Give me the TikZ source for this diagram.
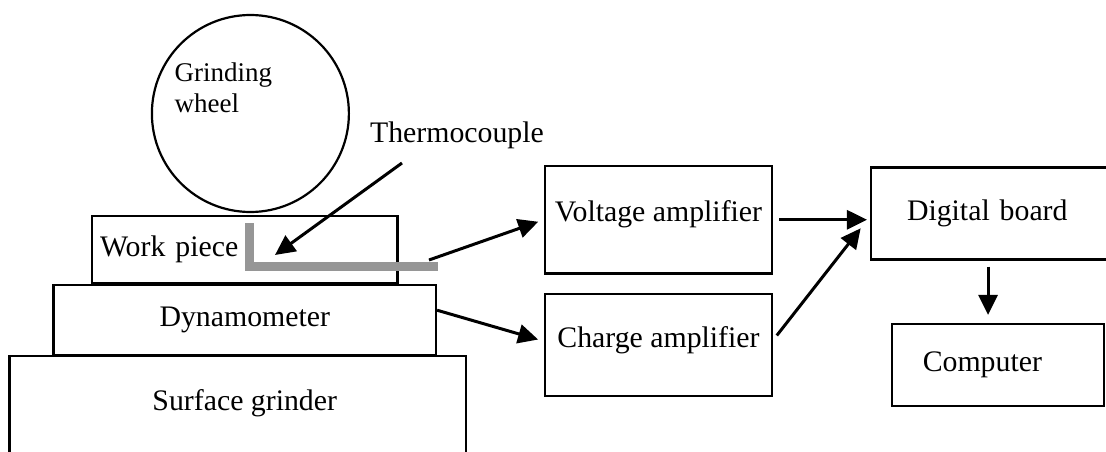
\documentclass[tikz,border=0pt]{standalone}
\usepackage{fontspec}
\setmainfont{Liberation Serif}
\usetikzlibrary{arrows.meta,positioning,calc}
\definecolor{tcgray}{RGB}{150,150,150}

\begin{document}
\begin{tikzpicture}[
  x=1pt, y=-1pt,
  every node/.style={font=\fontsize{29.8}{34}\selectfont},
  box/.style={draw, line width=2.2pt, inner sep=0pt},
  raised/.style={text depth=17pt},
  arr/.style={->, line width=3pt, shorten <=6pt, shorten >=6pt},
  >={Triangle[length=20pt, width=19pt]}
]
\useasboundingbox (0,0) rectangle (1106,452);
% grinding machine
\node[box, circle, minimum size=197pt,
  label={[xshift=-27pt, yshift=26pt, align=left, font=\fontsize{27}{31}\selectfont]center:Grinding\\wheel}]
  (wheel) at (250.4,113.5) {};
\node[box, text width=289.5pt, inner xsep=8pt, minimum height=67pt, align=left] (wp) at (244.75,249.5) {Work piece};
\node[box, minimum width=382.4pt, minimum height=70pt, below=0pt of wp] (dyn) {Dynamometer};
\node[minimum width=456pt, minimum height=94pt, below=0pt of dyn] (sg) {Surface grinder};
\draw[line width=2.2pt] ($(sg.south west)+(-7,20)$) |- ($(sg.north east)+(-7,0)$) -- ++(0,120);
% thermocouple
\coordinate (tctop) at (249.5,223);
\coordinate (tcend) at (437.5,266);
\draw[tcgray, line width=9pt] (tctop) |- (tcend);
\node (tc) at (457,135) {Thermocouple};
\coordinate (tctip) at (275,255);
\draw[arr, shorten <=0pt, shorten >=0pt] ($(tc.center)+(-55,28)$) -- (tctip);
% signal chain
\node[box, raised, minimum width=227pt, minimum height=107.5pt] (va) at (658.5,219.75) {Voltage amplifier};
\node[box, raised, minimum width=227pt, minimum height=102pt, below=18.5pt of va] (ca) {Charge amplifier};
\node[box, text width=178pt, inner xsep=36pt, minimum height=92pt, align=left] (db) at (996,213.5) {Digital board};
\node[box, text width=150.3pt, inner xsep=31pt, minimum height=82pt, align=left] (pc) at (997.9,365) {Computer};
\coordinate (tcout) at (429,260);
\draw[arr, shorten <=0pt] (tcout) -- (va.west);
\draw[arr, shorten <=0pt] ([yshift=10pt]dyn.east) -- ([yshift=4pt]ca.west);
\draw[arr, shorten >=3pt] (va.east) -- (va.east -| db.west);
\draw[arr, shorten >=15pt] ([yshift=5pt]ca.east) -- ([yshift=-3pt]db.west);
\draw[arr, shorten >=8pt] ([xshift=-8pt]db.south) -- ([xshift=-8pt]db.south |- pc.north);
\end{tikzpicture}
\end{document}
